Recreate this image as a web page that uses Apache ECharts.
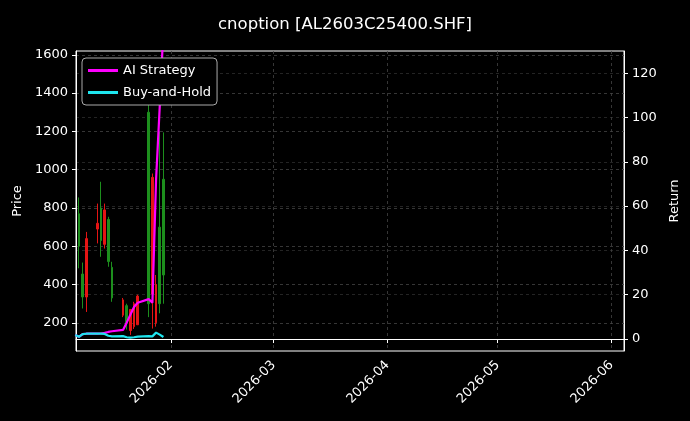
<!DOCTYPE html>
<html>
<head>
<meta charset="utf-8">
<script src="https://cdn.jsdelivr.net/npm/echarts@6/dist/echarts.min.js"></script>
<style>
  html, body { margin: 0; padding: 0; background: #000; }
  #chart { width: 690px; height: 421px; }
</style>
</head>
<body>
<div id="chart"></div>
<script>
// 日线数据 [日期, 开, 收, 低, 高]
var candleDates = ['2026-01-07', '2026-01-08', '2026-01-09', '2026-01-12', '2026-01-13', '2026-01-14',
    '2026-01-15', '2026-01-16', '2026-01-19', '2026-01-20', '2026-01-21', '2026-01-22', '2026-01-23',
    '2026-01-26', '2026-01-27', '2026-01-28', '2026-01-29', '2026-01-30'];
var candleOpen  = [600, 335, 640, 720, 630, 790, 520, 330, 320, 200, 270, 300, 340, 300, 960, 400, 300, 450];
var candleClose = [770, 455, 335, 690, 800, 610, 740, 490, 240, 290, 160, 180, 190, 1300, 350, 200, 700, 950];
var candleLow   = [485, 275, 257, 615, 545, 588, 493, 310, 230, 165, 137, 168, 190, 230, 170, 180, 250, 300];
var candleHigh  = [855, 515, 675, 823, 937, 823, 754, 519, 330, 300, 268, 310, 347, 1400, 980, 450, 1200, 1195];

// 收益曲线
var lineDates = ['2026-01-06', '2026-01-07', '2026-01-08', '2026-01-09', '2026-01-12', '2026-01-13',
    '2026-01-14', '2026-01-15', '2026-01-16', '2026-01-19', '2026-01-20', '2026-01-21', '2026-01-22',
    '2026-01-23', '2026-01-26', '2026-01-27', '2026-01-28', '2026-01-29', '2026-01-30'];
var strategyReturn = [1.8, 1.0, 2.2, 2.4, 2.4, 2.5, 2.8, 3.2, 3.5, 4.1, 7.4, 11, 14.5, 16.4, 18, 16.4, 72, 105, 140];
var holdReturn = [1.8, 1.0, 2.2, 2.4, 2.4, 2.4, 2.3, 1.5, 1.2, 1.3, 0.8, 0.6, 0.8, 1.1, 1.3, 1.2, 2.9, 2.0, 0.9];

var monthTicks = ['2026-02-01', '2026-03-01', '2026-04-01', '2026-05-01', '2026-06-01'];
var priceTicks = [200, 400, 600, 800, 1000, 1200, 1400, 1600];
var returnTicks = [0, 20, 40, 60, 80, 100, 120];

function ts(s) { return new Date(s + 'T00:00:00').getTime(); }

var candleData = candleDates.map(function (d, i) {
    return [ts(d), candleOpen[i], candleClose[i], candleLow[i], candleHigh[i]];
});
var strategyData = lineDates.map(function (d, i) { return [ts(d), strategyReturn[i]]; });
var holdData = lineDates.map(function (d, i) { return [ts(d), holdReturn[i]]; });
var monthTs = monthTicks.map(ts);
var DAY = 86400000;

var gridLine = { show: true, lineStyle: { color: '#444', type: [3, 3], width: 0.8 } };
var txt = { color: '#fff', fontFamily: 'DejaVu Sans', fontSize: 13 };

function fmtMonth(v) {
    var d = new Date(v);
    var m = d.getMonth() + 1;
    return d.getFullYear() + '-' + (m < 10 ? '0' + m : m);
}

var myChart = echarts.init(document.getElementById('chart'));
myChart.setOption({
    backgroundColor: '#000',
    animation: false,
    title: {
        text: 'cnoption [AL2603C25400.SHF]',
        left: 'center', top: 11,
        textStyle: { color: '#fff', fontFamily: 'DejaVu Sans', fontSize: 16.5, fontWeight: 'normal' }
    },
    legend: {
        left: 82, top: 58, orient: 'vertical',
        itemWidth: 30, itemHeight: 3, itemGap: 9,
        backgroundColor: '#000', borderColor: '#aaa', borderWidth: 1, borderRadius: 4,
        padding: [6, 6, 6, 6],
        textStyle: txt,
        data: [
            { name: 'AI Strategy', icon: 'rect' },
            { name: 'Buy-and-Hold', icon: 'rect' }
        ]
    },
    grid: { left: 76, right: 66, top: 51, bottom: 70, show: true, borderColor: '#fff', borderWidth: 1 },
    xAxis: {
        type: 'value',
        min: ts('2026-01-06') + 0.2 * DAY,
        max: ts('2026-06-04') + 0.4 * DAY,
        axisLine: { lineStyle: { color: '#fff' } },
        axisTick: { customValues: monthTs, length: 4, lineStyle: { color: '#fff' } },
        axisLabel: {
            customValues: monthTs, rotate: 45, margin: 12, color: '#fff', fontFamily: 'DejaVu Sans', fontSize: 13,
            formatter: fmtMonth
        },
        splitLine: gridLine
    },
    yAxis: [{
        type: 'value', min: 53, max: 1620,
        name: 'Price', nameLocation: 'middle', nameGap: 52, nameTextStyle: txt,
        axisLine: { show: true, lineStyle: { color: '#fff' } },
        axisTick: { show: true, customValues: priceTicks, length: 4, lineStyle: { color: '#fff' } },
        axisLabel: { customValues: priceTicks, color: '#fff', fontFamily: 'DejaVu Sans', fontSize: 13,
            formatter: function (v) { return String(v); } },
        splitLine: gridLine
    }, {
        type: 'value', min: -5.4, max: 130,
        name: 'Return', nameLocation: 'middle', nameGap: 42, nameTextStyle: txt,
        axisLine: { show: true, lineStyle: { color: '#fff' } },
        axisTick: { show: true, customValues: returnTicks, length: 4, lineStyle: { color: '#fff' } },
        axisLabel: { customValues: returnTicks, color: '#fff', fontFamily: 'DejaVu Sans', fontSize: 13 },
        splitLine: { show: true, lineStyle: { color: '#2e2e2e', type: [3, 3], width: 0.8 } }
    }],
    series: [{
        type: 'candlestick',
        yAxisIndex: 0,
        barWidth: 2,
        encode: { x: 0, y: [1, 2, 3, 4] },
        itemStyle: { color: '#1d8f1d', color0: '#e51414', borderColor: '#1d8f1d', borderColor0: '#e51414', borderWidth: 1 },
        data: candleData
    }, {
        name: 'AI Strategy', type: 'line', yAxisIndex: 1, showSymbol: false, symbol: 'none',
        lineStyle: { color: '#ff00ff', width: 2.2 }, itemStyle: { color: '#ff00ff' },
        data: strategyData, z: 3
    }, {
        name: 'Buy-and-Hold', type: 'line', yAxisIndex: 1, showSymbol: false, symbol: 'none',
        lineStyle: { color: '#1ee5ee', width: 2.2 }, itemStyle: { color: '#1ee5ee' },
        data: holdData, z: 4
    }]
});
</script>
</body>
</html>
